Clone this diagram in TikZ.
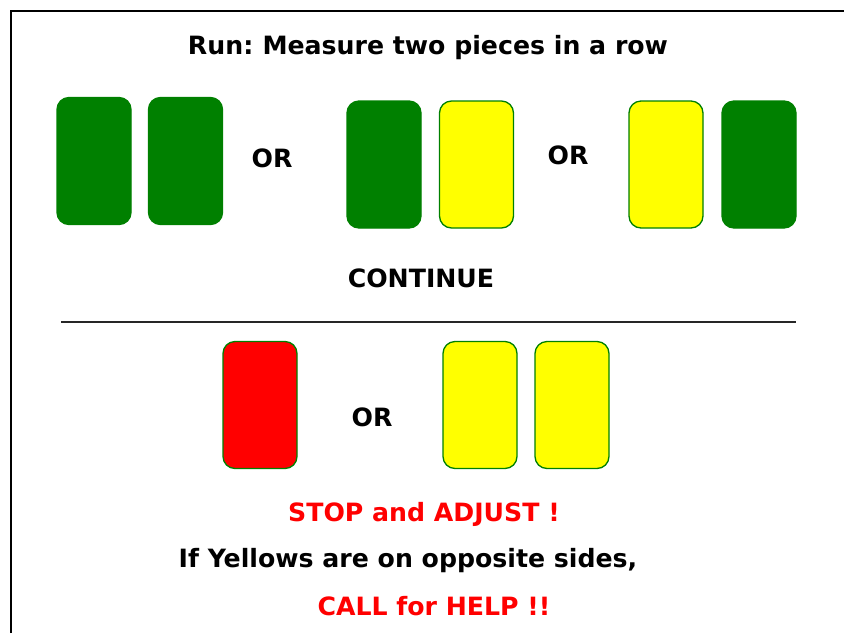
\documentclass[tikz,border=0pt]{standalone}
\usepackage{fontspec}
\setmainfont{DejaVu Sans}
\definecolor{pgreen}{HTML}{008000}
\definecolor{pyellow}{HTML}{FFFF00}
\definecolor{pred}{HTML}{FF0000}
\begin{document}
\begin{tikzpicture}[x=1pt,y=-1pt,
  piece/.style={draw=pgreen, line width=1.3pt, rounded corners=12pt, minimum width=74pt, minimum height=127pt, inner sep=0pt},
  gp/.style={piece, fill=pgreen},
  yp/.style={piece, fill=pyellow},
  rp/.style={piece, fill=pred},
  lbl/.style={font=\bfseries\fontsize{25.2}{28}\selectfont, text=black, inner sep=0pt},
  rlbl/.style={lbl, text=pred},
  frame/.style={line width=2.5pt, black},
  rule/.style={line width=1.5pt, black!85}]
\useasboundingbox (0,0) rectangle (844,633);
\fill[white] (0,0) rectangle (844,633);
% frame
\coordinate (fl) at (11,633);
\coordinate (fc) at (11,11);
\coordinate (fr) at (844,11);
\draw[frame] (fl) -- (fc) -- (fr);
% title
\node[lbl] (title) at (428,48) {Run:\hspace{-0.1em} Measure two pieces in a row};
% row 1
\node[gp] (g1) at (94,161) {};
\node[gp] (g2) at (185.5,161) {};
\node[lbl] (or1) at (272,158) {OR};
\node[gp] (g3) at (384,164.5) {};
\node[yp] (y1) at (476.5,164.5) {};
\node[lbl] (or2) at (568,155) {OR};
\node[yp] (y2) at (666,164.5) {};
\node[gp] (g4) at (759,164.5) {};
\node[lbl] (cont) at (421,278) {CONTINUE};
% divider
\coordinate (dl) at (61,322);
\coordinate (dr) at (796,322);
\draw[rule] (dl) -- (dr);
% row 2
\node[rp] (r1) at (260,405) {};
\node[lbl] (or3) at (372,417) {OR};
\node[yp] (y3) at (480,405) {};
\node[yp] (y4) at (572,405) {};
% bottom texts
\node[rlbl] (stop) at (424,514) {STOP and ADJUST !};
\node[lbl] (ifyel) at (408,561) {If Yellows are on opposite sides,};
\node[rlbl] (call) at (434,606) {CALL for HELP !!};
\end{tikzpicture}
\end{document}
